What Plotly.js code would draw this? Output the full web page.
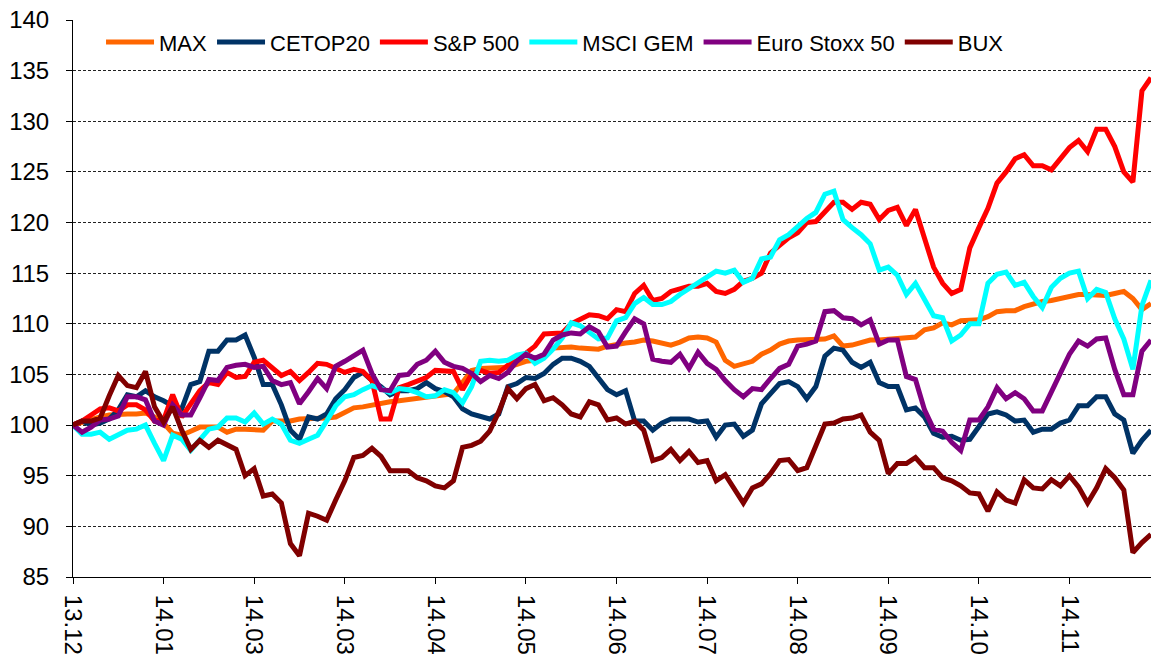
<!DOCTYPE html>
<html>
<head>
<meta charset="utf-8">
<script src="https://cdn.plot.ly/plotly-3.0.1.min.js"></script>
<style>
  body { margin: 0; background: #fff; }
  #chart { width: 1151px; height: 654px; }
</style>
</head>
<body>
<div id="chart"></div>
<script>
// tick labels on the date axis (one every 10 samples)
var tickPos = [0, 10, 20, 30, 40, 50, 60, 70, 80, 90, 100, 110];
var tickLabels = ["13.12", "14.01", "14.03", "14.03", "14.04", "14.05", "14.06", "14.07", "14.08", "14.09", "14.10", "14.11"];

// values, 120 samples per series
var maxIdx = [100.0, 100.3, 100.6, 100.8, 101.0, 101.1, 101.1, 101.1, 101.2, 100.8, 100.2, 99.2, 99.0, 99.4, 99.8, 99.8, 99.8, 99.3, 99.6, 99.6,
  99.6, 99.5, 100.4, 100.4, 100.4, 100.6, 100.6, 100.7, 100.7, 100.8, 101.3, 101.7, 101.8, 102.0, 102.1, 102.3, 102.4, 102.5, 102.6, 102.7,
  102.8, 103.0, 103.1, 104.2, 105.4, 105.6, 105.6, 105.6, 105.7, 106.0, 106.3, 106.4, 106.8, 107.6, 107.7, 107.7, 107.6, 107.6, 107.5, 107.8,
  108.0, 108.1, 108.2, 108.4, 108.3, 108.1, 107.9, 108.2, 108.6, 108.7, 108.6, 108.2, 106.4, 105.8, 106.1, 106.3, 107.0, 107.4, 108.0, 108.3,
  108.4, 108.4, 108.4, 108.5, 108.8, 107.8, 107.9, 108.2, 108.4, 108.4, 108.5, 108.5, 108.6, 108.7, 109.4, 109.6, 110.1, 109.9, 110.3, 110.4,
  110.4, 110.7, 111.2, 111.3, 111.3, 111.7, 112.0, 112.2, 112.3, 112.5, 112.6, 112.9, 112.9, 112.9, 112.8, 113.0, 113.2, 112.5, 111.4, 112.0];

var cetop20 = [100.0, 100.4, 100.0, 100.2, 100.6, 101.5, 103.0, 102.8, 103.4, 102.8, 102.4, 101.9, 101.6, 104.0, 104.3, 107.3, 107.3, 108.4, 108.4, 108.9,
  106.7, 104.0, 104.0, 102.0, 99.5, 98.6, 100.8, 100.6, 101.1, 102.6, 103.5, 104.7, 105.2, 104.4, 103.8, 103.0, 103.4, 103.4, 103.6, 104.2,
  103.6, 103.3, 102.8, 101.6, 101.1, 100.9, 100.6, 101.1, 103.8, 104.1, 104.7, 104.6, 105.1, 106.0, 106.6, 106.6, 106.3, 105.8, 104.7, 103.5,
  103.0, 103.4, 100.4, 100.4, 99.5, 100.2, 100.6, 100.6, 100.6, 100.3, 100.4, 98.8, 100.0, 100.1, 98.9, 99.5, 102.1, 103.1, 104.1, 104.3,
  103.8, 102.6, 103.8, 106.8, 107.6, 107.4, 106.2, 105.7, 106.2, 104.2, 103.8, 103.8, 101.5, 101.7, 100.8, 99.2, 98.8, 98.9, 98.5, 98.6,
  99.8, 101.1, 101.3, 101.0, 100.4, 100.5, 99.3, 99.6, 99.6, 100.2, 100.5, 101.9, 101.9, 102.8, 102.8, 101.1, 100.5, 97.2, 98.5, 99.5];

var sp500 = [100.0, 100.4, 101.0, 101.6, 101.7, 101.4, 102.0, 102.0, 101.5, 100.4, 100.5, 103.0, 100.8, 102.2, 103.4, 104.2, 104.0, 105.2, 104.7, 104.8,
  106.2, 106.4, 105.6, 104.9, 105.3, 104.4, 105.2, 106.1, 106.0, 105.6, 105.2, 105.5, 105.3, 104.4, 100.6, 100.6, 103.7, 104.0, 104.4, 104.7,
  105.4, 105.3, 105.3, 103.5, 105.0, 105.4, 105.1, 105.2, 105.9, 106.4, 107.1, 107.8, 109.0, 109.0, 109.1, 110.0, 110.4, 110.9, 110.8, 110.5,
  111.4, 111.2, 113.0, 113.8, 112.3, 112.5, 113.2, 113.4, 113.7, 113.7, 114.0, 113.2, 113.0, 113.4, 114.2, 114.5, 115.0, 117.0, 117.8, 118.5,
  119.0, 120.0, 120.1, 121.0, 122.0, 122.0, 121.3, 122.0, 121.8, 120.3, 121.2, 121.5, 119.7, 121.3, 118.5, 115.6, 114.0, 113.0, 113.4, 117.5,
  119.5, 121.4, 123.9, 125.0, 126.3, 126.7, 125.6, 125.6, 125.2, 126.4, 127.4, 128.1, 127.0, 129.2, 129.2, 127.5, 125.0, 124.0, 133.0, 134.3];

var msciGem = [100.0, 99.1, 99.1, 99.3, 98.6, 99.0, 99.5, 99.6, 100.0, 98.2, 96.5, 99.0, 98.6, 97.5, 98.6, 99.6, 99.8, 100.7, 100.7, 100.3,
  101.2, 100.1, 100.6, 100.1, 98.5, 98.2, 98.6, 99.0, 100.4, 101.9, 102.8, 103.0, 103.5, 103.9, 103.6, 103.2, 103.6, 103.5, 103.2, 102.8,
  102.9, 103.5, 103.2, 102.2, 103.8, 106.3, 106.4, 106.3, 106.4, 106.9, 107.1, 106.1, 106.6, 107.5, 108.6, 110.1, 109.8, 109.1, 108.5, 108.6,
  110.3, 110.6, 112.0, 112.6, 111.9, 111.9, 112.2, 112.9, 113.5, 114.0, 114.7, 115.2, 115.0, 115.3, 114.1, 114.5, 116.4, 116.6, 118.3, 118.8,
  119.6, 120.4, 121.0, 122.8, 123.1, 120.3, 119.5, 118.8, 117.9, 115.3, 115.6, 114.8, 112.9, 114.0, 112.4, 110.8, 110.6, 108.3, 108.9, 110.0,
  110.0, 114.0, 114.9, 115.1, 113.8, 114.1, 112.7, 111.6, 113.6, 114.5, 115.0, 115.2, 112.5, 113.4, 113.1, 110.5, 108.5, 105.5, 111.8, 114.3];

var euroStoxx50 = [100.0, 99.3, 99.8, 100.5, 100.6, 100.9, 102.8, 102.8, 102.5, 100.4, 100.0, 102.0, 101.0, 101.0, 102.7, 104.5, 104.4, 105.7, 105.9, 106.0,
  105.7, 105.8, 104.4, 104.0, 104.2, 102.1, 103.3, 104.6, 103.6, 105.8, 106.3, 106.8, 107.4, 105.1, 103.5, 103.4, 104.9, 105.0, 106.0, 106.4,
  107.3, 106.2, 105.8, 105.6, 105.1, 104.3, 104.9, 104.6, 105.2, 106.3, 107.0, 106.6, 107.0, 108.4, 108.9, 109.1, 109.0, 109.7, 109.2, 107.7,
  107.8, 109.2, 110.5, 110.0, 106.5, 106.3, 106.2, 107.0, 105.6, 107.2, 106.1, 105.5, 104.4, 103.5, 102.8, 103.6, 103.5, 104.6, 105.6, 106.0,
  107.8, 108.0, 108.3, 111.2, 111.3, 110.6, 110.5, 109.9, 110.4, 108.0, 108.4, 108.4, 104.8, 104.5, 101.5, 99.6, 99.4, 98.3, 97.5, 100.5,
  100.5, 101.8, 103.7, 102.6, 103.2, 102.6, 101.4, 101.4, 103.2, 105.0, 107.0, 108.3, 107.8, 108.5, 108.6, 105.5, 103.0, 103.0, 107.3, 108.4];

var bux = [100.0, 100.4, 100.4, 100.7, 102.9, 104.9, 103.9, 103.7, 105.3, 101.8, 100.3, 101.8, 99.5, 97.6, 98.5, 97.8, 98.5, 98.0, 97.6, 95.0,
  95.7, 93.0, 93.2, 92.3, 88.3, 87.1, 91.3, 91.0, 90.6, 92.6, 94.5, 96.8, 97.0, 97.7, 96.9, 95.5, 95.5, 95.5, 94.8, 94.5,
  94.0, 93.8, 94.5, 97.8, 98.0, 98.4, 99.4, 101.3, 103.6, 102.6, 103.6, 104.0, 102.4, 102.7, 102.0, 101.1, 100.8, 102.3, 102.0, 100.5,
  100.7, 100.1, 100.4, 99.5, 96.5, 96.8, 97.6, 96.5, 97.4, 96.3, 96.5, 94.5, 95.1, 93.8, 92.3, 93.8, 94.2, 95.2, 96.5, 96.6,
  95.5, 95.8, 98.0, 100.1, 100.2, 100.6, 100.7, 101.0, 99.3, 98.5, 95.2, 96.2, 96.2, 96.8, 95.8, 95.8, 94.8, 94.5, 94.0, 93.3,
  93.2, 91.5, 93.4, 92.6, 92.3, 94.6, 93.8, 93.7, 94.6, 94.0, 95.0, 93.9, 92.3, 93.8, 95.7, 94.8, 93.6, 87.4, 88.4, 89.2];

var xs = maxIdx.map(function (v, i) { return i; });

function line(name, y, color) {
  return {
    x: xs,
    y: y,
    name: name,
    type: "scatter",
    mode: "lines",
    line: { color: color, width: 5 },
    hoverinfo: "skip"
  };
}

var data = [
  line("MAX", maxIdx, "#FF6600"),
  line("CETOP20", cetop20, "#003366"),
  line("S&P 500", sp500, "#FF0000"),
  line("MSCI GEM", msciGem, "#00FFFF"),
  line("Euro Stoxx 50", euroStoxx50, "#800080"),
  line("BUX", bux, "#800000")
];

var layout = {
  width: 1151,
  height: 654,
  margin: { l: 73, r: 0, t: 20, b: 77 },
  paper_bgcolor: "#fff",
  plot_bgcolor: "#fff",
  font: { family: "Liberation Sans, Arial, sans-serif", color: "#000" },
  showlegend: true,
  legend: {
    orientation: "h",
    x: 0.026,
    xanchor: "left",
    y: 0.96,
    yanchor: "middle",
    bgcolor: "rgba(0,0,0,0)",
    font: { size: 22 },
    itemwidth: 48
  },
  xaxis: {
    range: [0, 119],
    tickmode: "array",
    tickvals: tickPos,
    ticktext: tickLabels,
    tickangle: 90,
    ticks: "outside",
    ticklen: 6,
    tickcolor: "#000",
    tickfont: { size: 24 },
    ticklabelstandoff: 6,
    showline: true,
    linecolor: "#000",
    linewidth: 1,
    showgrid: false,
    zeroline: false
  },
  yaxis: {
    range: [85, 140],
    dtick: 5,
    tick0: 85,
    ticks: "outside",
    ticklen: 6,
    tickcolor: "#000",
    tickfont: { size: 24 },
    ticklabelstandoff: 12,
    showline: true,
    linecolor: "#000",
    linewidth: 1,
    showgrid: true,
    gridcolor: "#222",
    gridwidth: 1,
    griddash: "3px,2px",
    zeroline: false
  }
};

Plotly.newPlot("chart", data, layout, { displayModeBar: false, staticPlot: true });
</script>
</body>
</html>
